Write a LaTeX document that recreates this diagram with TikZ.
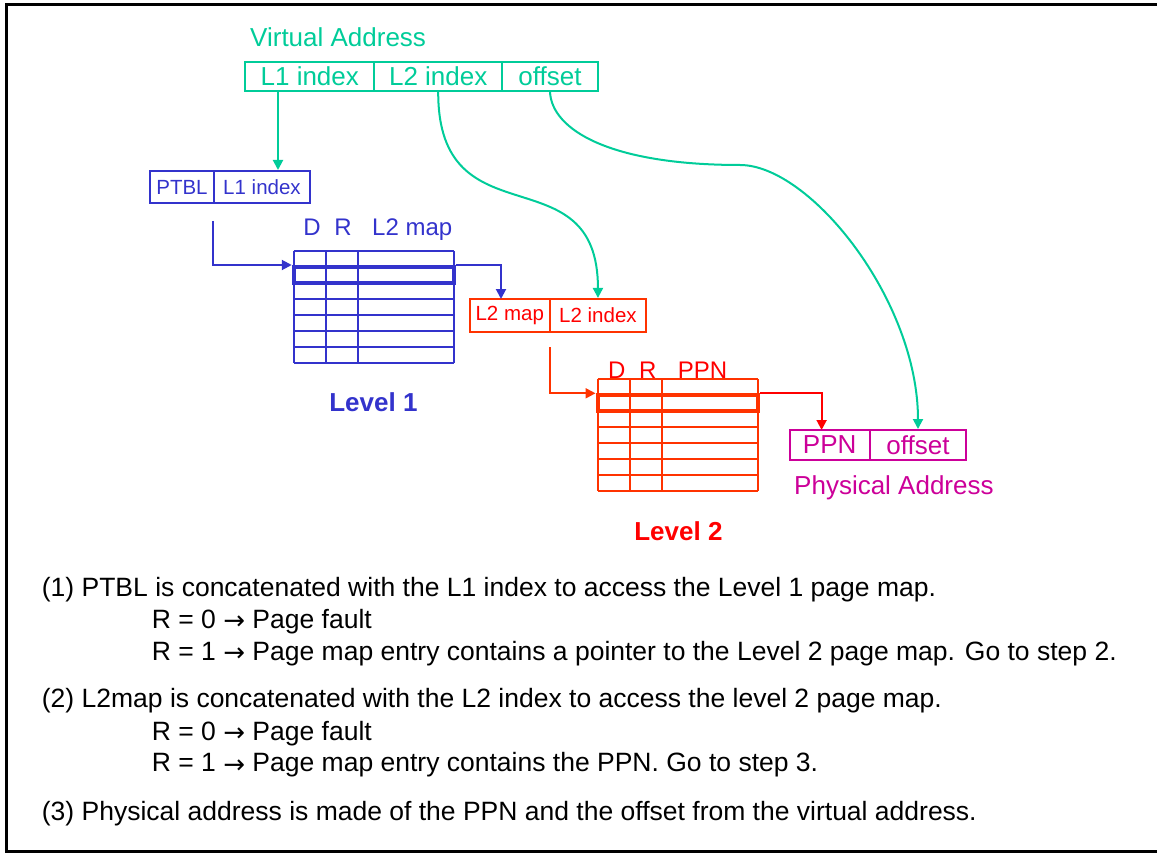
\documentclass[tikz,border=0pt]{standalone}
\usepackage{fontspec}
\setmainfont{Liberation Sans}
\newfontfamily\arrowfont{DejaVu Sans}
\usetikzlibrary{arrows.meta}
\definecolor{vgreen}{HTML}{00CC99}
\definecolor{vblue}{HTML}{3333CC}
\definecolor{vorange}{HTML}{FF3300}
\definecolor{vred}{HTML}{FF0000}
\definecolor{vmag}{HTML}{CC0099}
\newcommand{\rarr}{\raisebox{-1.5pt}{\arrowfont\fontsize{26}{30}\selectfont →}}
\begin{document}
\begin{tikzpicture}[x=1pt,y=-1pt,
  big/.style={font=\fontsize{26}{31}\selectfont},
  body/.style={font=\fontsize{26.5}{31}\selectfont},
  mid/.style={font=\fontsize{24}{28}\selectfont},
  small/.style={font=\fontsize{20.5}{24}\selectfont},
  cellbox/.style={draw, line width=2pt, inner sep=0pt},
  arr/.style={line width=2pt, -{Triangle[length=10pt,width=10pt]}},
  tline/.style={line width=2pt},
  hlrow/.style={draw, line width=4pt, inner sep=0pt, minimum width=160.5pt, minimum height=16pt},
  txt/.style={body, anchor=base west, inner sep=0pt},
]
\useasboundingbox (0,0) rectangle (1157,853);
\draw[line width=3pt] (1165,5) -- (6,5) -- (6,851.5) -- (1165,851.5);

% Virtual address
\node[big, text=vgreen, anchor=base west, inner sep=0pt] (vatitle) at (250,46.7) {Virtual Address};
\node[cellbox, vgreen, big, minimum width=129pt, minimum height=28.7pt] (va1) at (309.8,76.7) {L1 index};
\node[cellbox, vgreen, big, minimum width=127.7pt, minimum height=28.7pt] (va2) at (438.2,76.7) {L2 index};
\node[cellbox, vgreen, big, minimum width=96pt, minimum height=28.7pt] (va3) at (550,76.7) {offset};

% PTBL box
\node[cellbox, vblue, small, minimum width=64pt, minimum height=32pt] (ptb1) at (182,187) {PTBL};
\node[cellbox, vblue, small, minimum width=96pt, minimum height=32pt] (ptb2) at (262,187) {L1 index};

% Level 1 table
\node[mid, text=vblue, anchor=base, inner sep=0pt] (h1d) at (312,236) {D};
\node[mid, text=vblue, anchor=base, inner sep=0pt] (h1r) at (343,236) {R};
\node[mid, text=vblue, anchor=base west, inner sep=0pt] (h1m) at (372,236) {L2 map};
\foreach \r in {0,...,7} \draw[tline, vblue] (293.7,251+16*\r) -- (454.3,251+16*\r);
\foreach \c in {293.7,325.7,358,454.3} \draw[tline, vblue] (\c,251) -- (\c,363);
\node[hlrow, vblue] (hl1) at (374,275) {};
\node[font=\fontsize{26}{31}\selectfont\bfseries, text=vblue, anchor=base, inner sep=0pt] (lev1) at (373.4,411.7) {Level 1};

% L2 box
\node[cellbox, vorange, text=vred, small, minimum width=80.3pt, minimum height=32.7pt] (l2a) at (509.75,315.3) {L2 map};
\node[cellbox, vorange, text=vred, small, minimum width=96.1pt, minimum height=32.7pt] (l2b) at (597.95,315.3) {L2 index};

% Level 2 table
\node[mid, text=vred, anchor=base, inner sep=0pt] (h2d) at (616.7,378) {D};
\node[mid, text=vred, anchor=base, inner sep=0pt] (h2r) at (647.7,378) {R};
\node[mid, text=vred, anchor=base west, inner sep=0pt] (h2p) at (677.6,378) {PPN};
\foreach \r in {0,...,7} \draw[tline, vorange] (597.7,379.3+16*\r) -- (757.9,379.3+16*\r);
\foreach \c in {597.7,630.1,661.8,757.9} \draw[tline, vorange] (\c,379.3) -- (\c,491.3);
\node[hlrow, vorange] (hl2) at (677.8,403.3) {};
\node[font=\fontsize{26}{31}\selectfont\bfseries, text=vred, anchor=base, inner sep=0pt] (lev2) at (678.4,540) {Level 2};

% Physical address
\node[cellbox, vmag, big, minimum width=80.3pt, minimum height=30pt] (pp1) at (829.65,445) {PPN};
\node[cellbox, vmag, big, minimum width=96.4pt, minimum height=30pt] (pp2) at (918,445) {offset};
\node[big, text=vmag, anchor=base west, inner sep=0pt] (patitle) at (794,494) {Physical Address};

% connectors
\coordinate (g1) at (278,91.7);
\draw[arr, vgreen] (g1) -- (g1 |- ptb2.north);
\coordinate (b1) at (213,221);
\draw[arr, vblue] (b1) |- (hl1.north west);
\coordinate (b2) at (501,299);
\draw[arr, vblue] (hl1.north east) -| (b2);
\coordinate (r1) at (549.9,347.3);
\draw[arr, vorange] (r1) |- (hl2.north west);
\coordinate (r2) at (821.6,430);
\draw[arr, vred] (hl2.north east) -| (r2);
\draw[arr, vgreen] (va2.south) .. controls (438,245) and (598,150) .. (l2b.north);
\draw[arr, vgreen] (va3.south) .. controls (552,130) and (610,165) .. (740,165) .. controls (810,165) and (918,300) .. (pp2.north);

% explanation text
\node[txt] (t1) at (41.7,596) {(1) PTBL is concatenated with the L1 index to access the Level 1 page map.};
\node[txt] (t2) at (151.7,628.3) {R = 0 \rarr{} Page fault};
\node[txt] (t3) at (151.7,660) {R = 1 \rarr{} Page map entry contains a pointer to the Level 2 page map. Go to step 2.};
\node[txt] (t4) at (41.7,707.3) {(2) L2map is concatenated with the L2 index to access the level 2 page map.};
\node[txt] (t5) at (151.7,740) {R = 0 \rarr{} Page fault};
\node[txt] (t6) at (151.7,771.7) {R = 1 \rarr{} Page map entry contains the PPN. Go to step 3.};
\node[txt] (t7) at (41.7,820) {(3) Physical address is made of the PPN and the offset from the virtual address.};
\end{tikzpicture}
\end{document}
